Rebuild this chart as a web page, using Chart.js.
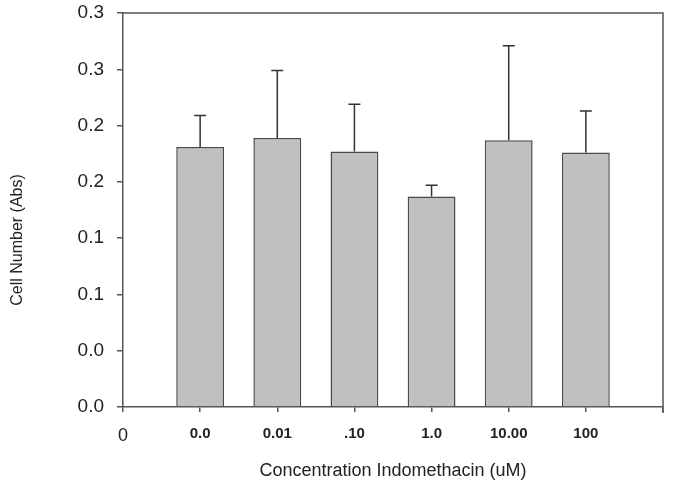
<!DOCTYPE html>
<html lang="en">
<head>
    <meta charset="UTF-8">
    <title>Cell Number vs Indomethacin</title>
    <script src="https://cdn.jsdelivr.net/npm/chart.js"></script>
    <style>
        body { margin: 0; background: #fff; }
    </style>
</head>
<body>
<canvas id="cellChart" width="685" height="488"></canvas>

<script>
    // data
    const xLabels = ['0', '0.0', '0.01', '.10', '1.0', '10.00', '100', ''];
    const xPositions = [1, 2, 3, 4, 5, 6];
    const meanValues = [0.231, 0.239, 0.227, 0.187, 0.237, 0.226];
    const errorValues = [0.028, 0.060, 0.042, 0.010, 0.084, 0.037];
    const yTickLabels = ['0.0', '0.0', '0.1', '0.1', '0.2', '0.2', '0.3', '0.3'];

    const axisColor = '#555';
    const textColor = '#222';
    const fontFamily = '"Liberation Sans", Arial, sans-serif';

    const errorBarPlugin = {
        id: 'errorBarPlugin',
        afterDatasetsDraw(chart) {
            const ctx = chart.ctx;
            const xs = chart.scales.x;
            const ys = chart.scales.y;
            ctx.save();
            ctx.strokeStyle = '#333';
            ctx.lineWidth = 1.5;
            for (let i = 0; i < meanValues.length; i++) {
                const px = xs.getPixelForValue(xPositions[i]);
                const yMean = ys.getPixelForValue(meanValues[i]);
                const yTop = ys.getPixelForValue(meanValues[i] + errorValues[i]);
                ctx.beginPath();
                ctx.moveTo(px, yMean);
                ctx.lineTo(px, yTop);
                ctx.moveTo(px - 6, yTop);
                ctx.lineTo(px + 6, yTop);
                ctx.stroke();
            }
            ctx.restore();
        }
    };

    // top and right frame lines + rotated y title
    const framePlugin = {
        id: 'framePlugin',
        afterDraw(chart) {
            const ctx = chart.ctx;
            const a = chart.chartArea;
            ctx.save();
            ctx.strokeStyle = axisColor;
            ctx.lineWidth = 1.5;
            ctx.beginPath();
            ctx.moveTo(a.left, a.top);
            ctx.lineTo(a.right, a.top);
            ctx.lineTo(a.right, a.bottom + 6);
            ctx.stroke();

            ctx.fillStyle = textColor;
            ctx.font = '16px ' + fontFamily;
            ctx.textAlign = 'center';
            ctx.textBaseline = 'middle';
            ctx.translate(18, 240);
            ctx.rotate(-Math.PI / 2);
            ctx.fillText('Cell Number (Abs)', 0, 0);
            ctx.restore();
        }
    };

    const ctx = document.getElementById('cellChart').getContext('2d');
    new Chart(ctx, {
        type: 'bar',
        data: {
            datasets: [{
                data: xPositions.map((x, i) => ({ x: x, y: meanValues[i] })),
                backgroundColor: '#c0c0c0',
                borderColor: '#4a4a4a',
                borderWidth: 1.5,
                barPercentage: 0.62,
                categoryPercentage: 1
            }]
        },
        options: {
            responsive: false,
            animation: false,
            layout: { padding: { top: 13, right: 22, left: 0, bottom: 0 } },
            plugins: {
                legend: { display: false },
                tooltip: { enabled: false }
            },
            scales: {
                x: {
                    type: 'linear',
                    min: 0,
                    max: 7,
                    offset: false,
                    afterFit: (scale) => {
                        scale.height = 81;
                        scale.paddingLeft = 0;
                        scale.paddingRight = 0;
                    },
                    border: { display: true, color: axisColor, width: 1.5 },
                    grid: {
                        offset: false,
                        drawOnChartArea: false,
                        drawTicks: true,
                        tickLength: 5,
                        color: axisColor,
                        lineWidth: 1.5
                    },
                    ticks: {
                        stepSize: 1,
                        padding: 13,
                        color: textColor,
                        maxRotation: 0,
                        autoSkip: false,
                        callback: (value) => xLabels[value],
                        font: (c) => c.tick && c.tick.value === 0
                            ? { family: fontFamily, size: 18 }
                            : { family: fontFamily, size: 15, weight: 'bold' }
                    },
                    title: {
                        display: true,
                        text: 'Concentration Indomethacin (uM)',
                        color: textColor,
                        font: { family: fontFamily, size: 18 },
                        padding: { top: 0, bottom: 6 }
                    }
                },
                y: {
                    min: 0,
                    max: 0.35,
                    afterFit: (scale) => {
                        scale.width = 123;
                        scale.paddingTop = 0;
                        scale.paddingBottom = 0;
                    },
                    border: { display: true, color: axisColor, width: 1.5 },
                    grid: {
                        drawOnChartArea: false,
                        drawTicks: true,
                        tickLength: 6,
                        color: axisColor,
                        lineWidth: 1.5
                    },
                    ticks: {
                        stepSize: 0.05,
                        padding: 13,
                        color: textColor,
                        font: { family: fontFamily, size: 19 },
                        callback: (value, index) => yTickLabels[index]
                    }
                }
            }
        },
        plugins: [errorBarPlugin, framePlugin]
    });
</script>
</body>
</html>
